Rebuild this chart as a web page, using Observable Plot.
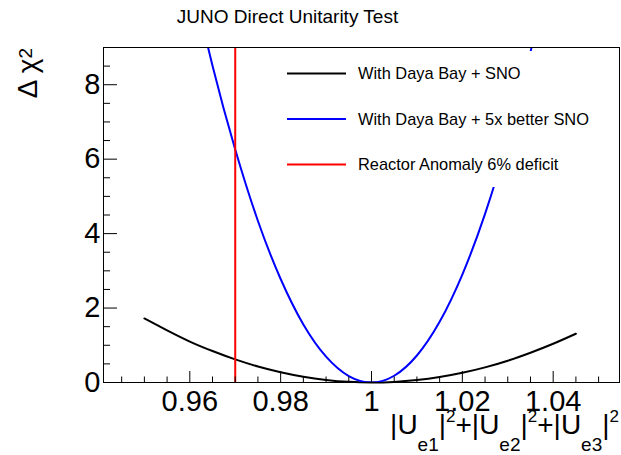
<!DOCTYPE html>
<html><head><meta charset="utf-8">
<script src="https://cdn.jsdelivr.net/npm/d3@7"></script>
<script src="https://cdn.jsdelivr.net/npm/@observablehq/plot@0.6"></script>
<style>body{margin:0;background:#fff;} svg{display:block}</style>
</head><body><div id="chart"></div>
<script>
// Δχ² curves
const xBlack = [0.95,0.955,0.96,0.965,0.97,0.975,0.98,0.985,0.99,0.995,1.0,1.005,1.01,1.015,1.02,1.025,1.03,1.035,1.04,1.045];
const yBlack = [1.72,1.40,1.10,0.845,0.62,0.43,0.276,0.155,0.069,0.017,0,0.016,0.065,0.146,0.26,0.406,0.585,0.80,1.04,1.31];
const xBlue = [0.96,0.965,0.97,0.975,0.98,0.985,0.99,0.995,1.0,1.005,1.01,1.015,1.02,1.025,1.03,1.035,1.04];
const yBlue = [11.12,8.51,6.26,4.34,2.78,1.56,0.695,0.174,0,0.181,0.725,1.63,2.90,4.53,6.53,8.88,11.6];
const reactorX = [0.97];
const xMajor = [0.96,0.98,1,1.02,1.04];
const xMinor = [0.945,0.95,0.955,0.965,0.97,0.975,0.985,0.99,0.995,1.005,1.01,1.015,1.025,1.03,1.035,1.045,1.05];
const yMajor = [0,2,4,6,8];
const yMinor = [0.5,1,1.5,2.5,3,3.5,4.5,5,5.5,6.5,7,7.5,8.5];
const legendLabels = ["With Daya Bay + SNO","With Daya Bay + 5x better SNO","Reactor Anomaly 6% deficit"];
const legendColors = ["black","blue","red"];
const titleText = "JUNO Direct Unitarity Test";

const black = xBlack.map((x,i)=>({x, y:yBlack[i]}));
const blue = xBlue.map((x,i)=>({x, y:yBlue[i]}));
const FONT = "Liberation Sans, Arial, Helvetica, sans-serif";
const fmt = d => String(+d.toFixed(3));

const svgNode = Plot.plot({
  width: 621, height: 455,
  marginLeft: 103, marginRight: 2, marginTop: 47, marginBottom: 73,
  x: {domain: [0.941, 1.0546]},
  y: {domain: [0, 9]},
  style: {fontFamily: FONT, background: "white", color: "black"},
  marks: [
    Plot.line(black, {x:"x", y:"y", stroke:"black", strokeWidth:2, curve:"natural"}),
    Plot.line(blue, {x:"x", y:"y", stroke:"#0000ff", strokeWidth:2, curve:"natural", clip:true}),
    Plot.ruleX(reactorX, {stroke:"#ff0000", strokeWidth:2}),
    Plot.axisX({ticks: xMajor, tickSize: -11, tickFormat: () => "", label: null}),
    Plot.axisX({ticks: xMinor, tickSize: -5.5, tickFormat: () => "", label: null}),
    Plot.axisX({ticks: xMajor, tickSize: 0, tickPadding: 8, fontSize: 29, tickFormat: fmt, label: null}),
    Plot.axisY({ticks: yMajor, tickSize: -14, tickFormat: () => "", label: null}),
    Plot.axisY({ticks: yMinor, tickSize: -7, tickFormat: () => "", label: null}),
    Plot.axisY({ticks: yMajor, tickSize: 0, tickPadding: 3, fontSize: 29, tickFormat: fmt, label: null}),
    Plot.frame({stroke:"black", strokeWidth:1})
  ]
});
document.getElementById("chart").appendChild(svgNode);
const svg = d3.select(svgNode);

// legend (white box covers curves, as in the reference)
const lg = svg.append("g");
lg.append("rect").attr("x",272).attr("y",51).attr("width",335).attr("height",136).attr("fill","white");
legendLabels.forEach((t,i)=>{
  const yy = 73.5 + i*45.5;
  lg.append("line").attr("x1",287).attr("x2",346).attr("y1",yy).attr("y2",yy)
    .attr("stroke",legendColors[i]).attr("stroke-width",2);
  lg.append("text").attr("x",358).attr("y",yy).attr("dy","0.35em").attr("text-anchor","start")
    .attr("font-family",FONT).attr("font-size",16.4).attr("fill","black").text(t);
});

// title
svg.append("text").attr("x",287.5).attr("y",23).attr("text-anchor","middle")
  .attr("font-family",FONT).attr("font-size",19).attr("fill","black").text(titleText);

// x-axis title with sub/superscripts
const xt = svg.append("text").attr("x",619).attr("y",434).attr("text-anchor","end")
  .attr("font-family",FONT).attr("font-size",28).attr("fill","black");
const parts = [["|U",0,28],["e1",17,19],["|",0,28],["2",-12,17],["+|U",0,28],["e2",17,19],["|",0,28],["2",-12,17],["+|U",0,28],["e3",17,19],["|",0,28],["2",-12,17]];
let cur = 0;
parts.forEach(([t,off,fs])=>{
  xt.append("tspan").attr("dy", off-cur).attr("font-size",fs).text(t);
  cur = off;
});

// y-axis title
const yt = svg.append("text").attr("transform","translate(37,48) rotate(-90)").attr("text-anchor","end")
  .attr("font-family",FONT).attr("font-size",28).attr("fill","black");
yt.append("tspan").text("Δ χ");
yt.append("tspan").attr("dy",-5).attr("font-size",19).text("2");
</script>
</body></html>
